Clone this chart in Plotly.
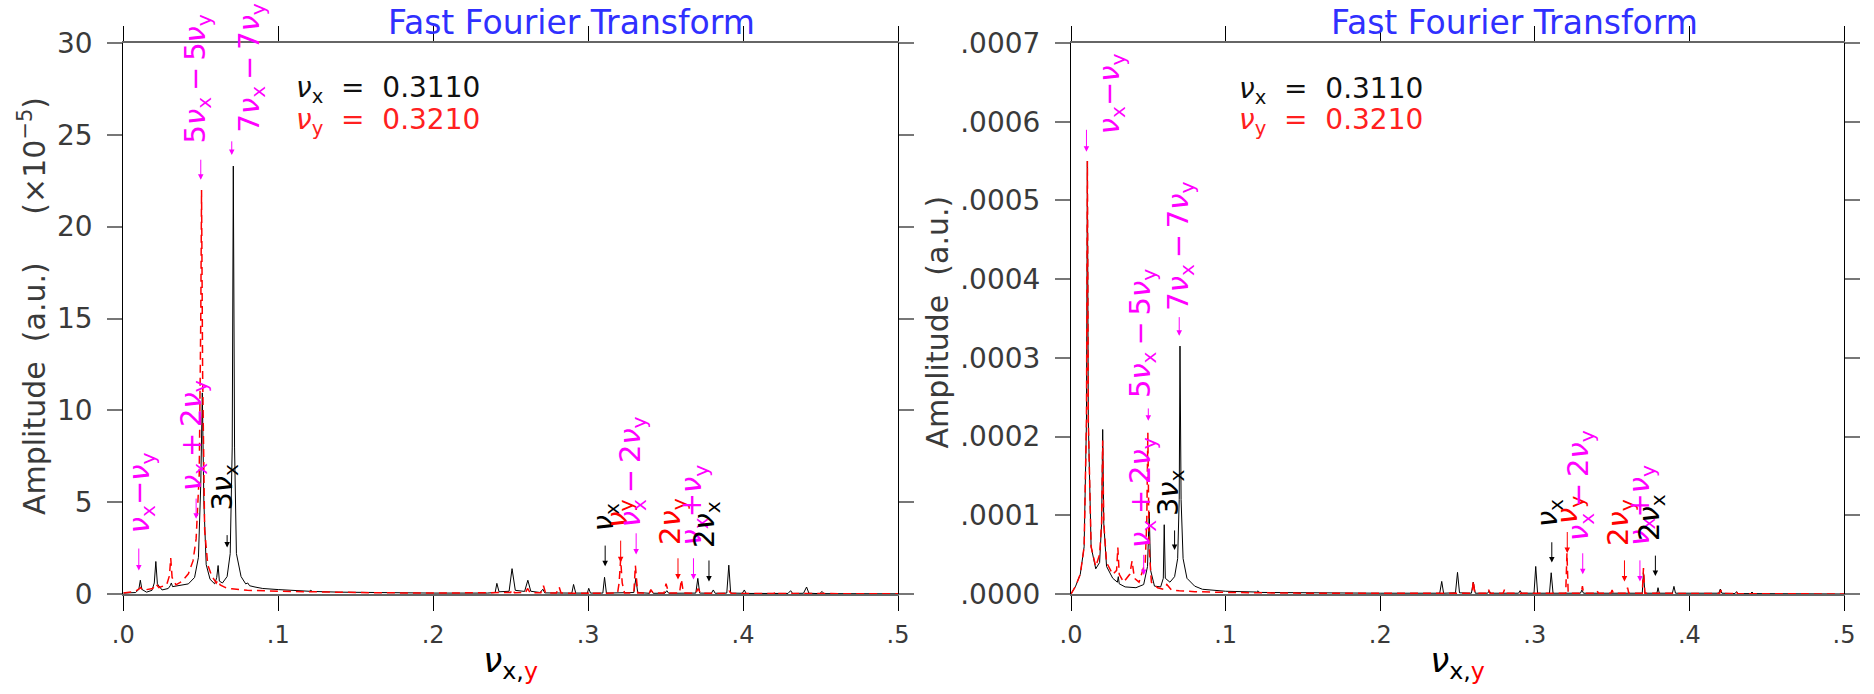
import plotly.graph_objects as go

# ---------------- data ----------------
# Left panel: amplitude in units of 1e-5
LB_NU = [0.000, 0.008, 0.0100, 0.0110, 0.0120, 0.0150, 0.0185, 0.0200, 0.0210, 0.0220, 0.0250,
         0.0290, 0.0303, 0.0310, 0.0318, 0.0360, 0.0420, 0.0460, 0.0485, 0.0500, 0.0510, 0.0520,
         0.0535, 0.0560, 0.0590, 0.0603, 0.0612, 0.0620, 0.0640, 0.0670, 0.0690, 0.0703, 0.0710,
         0.0718, 0.0730, 0.0760, 0.0790, 0.0803, 0.0815, 0.0850, 0.0900, 0.1000, 0.1100, 0.1200,
         0.1210, 0.1220, 0.1400, 0.1600, 0.2000, 0.2350, 0.2400, 0.2411, 0.2425, 0.2490, 0.2509,
         0.2530, 0.2590, 0.2611, 0.2630, 0.2690, 0.2708, 0.2720, 0.2895, 0.2906, 0.2920, 0.2995,
         0.3004, 0.3015, 0.3095, 0.3106, 0.3118, 0.3295, 0.3308, 0.3320, 0.3395, 0.3408, 0.3420,
         0.3495, 0.3508, 0.3520, 0.3695, 0.3708, 0.3720, 0.3795, 0.3808, 0.3820, 0.3895, 0.3908,
         0.3920, 0.3995, 0.4008, 0.4020, 0.4290, 0.4307, 0.4320, 0.4390, 0.4410, 0.4425, 0.4495,
         0.4510, 0.4522, 0.5000]
LB_AMP = [0.05, 0.08, 0.25, 0.75, 0.25, 0.10, 0.20, 0.60, 1.77, 0.55, 0.22,
          0.30, 0.45, 0.60, 0.40, 0.45, 0.55, 0.90, 2.00, 6.00, 10.95, 5.00,
          1.60, 0.80, 0.55, 0.90, 1.55, 0.70, 0.60, 0.95, 2.20, 8.00, 23.30,
          8.00, 2.20, 0.95, 0.55, 0.60, 0.45, 0.38, 0.30, 0.24, 0.18, 0.15,
          0.20, 0.14, 0.10, 0.07, 0.05, 0.05, 0.08, 0.58, 0.12, 0.15, 1.38,
          0.20, 0.14, 0.75, 0.15, 0.08, 0.26, 0.06, 0.05, 0.52, 0.05, 0.05,
          0.31, 0.05, 0.05, 0.91, 0.05, 0.08, 0.85, 0.08, 0.04, 0.20, 0.04,
          0.04, 0.18, 0.04, 0.05, 0.85, 0.05, 0.04, 0.22, 0.04, 0.05, 1.57,
          0.05, 0.04, 0.22, 0.03, 0.03, 0.18, 0.03, 0.04, 0.38, 0.04, 0.02,
          0.14, 0.02, 0.01]

LR_NU = [0.000, 0.008, 0.0105, 0.0112, 0.0125, 0.0190, 0.0210, 0.0230, 0.0280, 0.0298, 0.0306,
         0.0315, 0.0340, 0.0380, 0.0420, 0.0450, 0.0470, 0.0490, 0.0500, 0.0505, 0.0512, 0.0525,
         0.0545, 0.0570, 0.0600, 0.0610, 0.0625, 0.0660, 0.0700, 0.0750, 0.0800, 0.1000, 0.1300,
         0.1600, 0.2000, 0.2400, 0.2500, 0.2510, 0.2525, 0.2595, 0.2610, 0.2625, 0.2695, 0.2712,
         0.2725, 0.2795, 0.2813, 0.2825, 0.3000, 0.3010, 0.3020, 0.3190, 0.3200, 0.3210, 0.3220,
         0.3235, 0.3295, 0.3305, 0.3320, 0.3395, 0.3405, 0.3420, 0.3490, 0.3503, 0.3520, 0.3590,
         0.3602, 0.3615, 0.3695, 0.3710, 0.3725, 0.3900, 0.3910, 0.3925, 0.4200, 0.4210, 0.4225,
         0.5000]
LR_AMP = [0.05, 0.15, 0.30, 0.35, 0.20, 0.30, 0.55, 0.35, 0.50, 1.00, 1.96,
          0.90, 0.50, 0.70, 1.10, 1.80, 3.00, 6.50, 15.0, 22.0, 12.0, 3.50,
          1.60, 1.00, 0.60, 0.75, 0.50, 0.35, 0.28, 0.22, 0.20, 0.15, 0.10,
          0.07, 0.05, 0.05, 0.08, 0.25, 0.07, 0.08, 0.30, 0.07, 0.07, 0.45,
          0.06, 0.06, 0.38, 0.05, 0.04, 0.12, 0.04, 0.05, 0.60, 1.90, 0.60,
          0.05, 0.05, 1.55, 0.05, 0.05, 0.24, 0.05, 0.05, 0.56, 0.05, 0.05,
          0.80, 0.05, 0.04, 0.30, 0.04, 0.03, 0.15, 0.03, 0.03, 0.15, 0.03,
          0.01]

# Right panel: absolute amplitude
RB_NU = [0.000, 0.003, 0.006, 0.0085, 0.0100, 0.0106, 0.0112, 0.0130, 0.0160, 0.0185, 0.0198,
         0.0205, 0.0212, 0.0230, 0.0270, 0.0300, 0.0306, 0.0312, 0.0350, 0.0420, 0.0470, 0.0495,
         0.0506, 0.0515, 0.0540, 0.0580, 0.0597, 0.0603, 0.0610, 0.0640, 0.0670, 0.0690, 0.0700,
         0.0705, 0.0712, 0.0725, 0.0750, 0.0800, 0.0850, 0.1000, 0.1200, 0.1210, 0.1220, 0.1500,
         0.2000, 0.2385, 0.2398, 0.2410, 0.2487, 0.2500, 0.2513, 0.2590, 0.2602, 0.2615, 0.2695,
         0.2705, 0.2715, 0.2895, 0.2905, 0.2915, 0.2995, 0.3006, 0.3018, 0.3095, 0.3106, 0.3118,
         0.3295, 0.3305, 0.3315, 0.3695, 0.3703, 0.3712, 0.3790, 0.3797, 0.3805, 0.3890, 0.3900,
         0.3910, 0.4190, 0.4200, 0.4210, 0.4295, 0.4305, 0.4315, 0.4395, 0.4405, 0.4415, 0.5000]
RB_AMP = [0.0, 1.0e-5, 2.5e-5, 6.0e-5, 2.2e-4, 5.5e-4, 2.2e-4, 6.0e-5, 3.2e-5, 4.0e-5, 9.0e-5,
          2.09e-4, 9.0e-5, 3.5e-5, 2.0e-5, 1.5e-5, 2.2e-5, 1.3e-5, 9.0e-6, 8.0e-6, 1.2e-5, 3.5e-5,
          1.04e-4, 3.0e-5, 1.0e-5, 9.0e-6, 2.0e-5, 8.8e-5, 2.0e-5, 1.5e-5, 2.2e-5, 4.5e-5, 1.2e-4,
          3.15e-4, 1.2e-4, 4.5e-5, 2.0e-5, 1.0e-5, 6.0e-6, 3.5e-6, 2.5e-6, 4.0e-6, 2.0e-6, 1.5e-6,
          1.0e-6, 1.0e-6, 1.6e-5, 1.0e-6, 1.5e-6, 2.75e-5, 1.5e-6, 1.0e-6, 1.5e-5, 1.0e-6, 1.0e-6,
          4.0e-6, 1.0e-6, 1.0e-6, 4.2e-6, 1.0e-6, 1.0e-6, 3.5e-5, 1.0e-6, 1.0e-6, 2.7e-5, 1.0e-6,
          1.0e-6, 5.0e-6, 1.0e-6, 1.0e-6, 2.8e-5, 1.0e-6, 1.0e-6, 8.0e-6, 1.0e-6, 1.0e-6, 9.7e-6,
          1.0e-6, 1.0e-6, 6.3e-6, 1.0e-6, 5.0e-7, 3.0e-6, 5.0e-7, 5.0e-7, 2.5e-6, 5.0e-7, 0.0]

RR_NU = [0.000, 0.003, 0.006, 0.0085, 0.0100, 0.0106, 0.0112, 0.0130, 0.0160, 0.0185, 0.0198,
         0.0205, 0.0212, 0.0230, 0.0270, 0.0295, 0.0303, 0.0312, 0.0340, 0.0380, 0.0395, 0.0410,
         0.0440, 0.0480, 0.0490, 0.0497, 0.0505, 0.0520, 0.0560, 0.0600, 0.0620, 0.0650, 0.0700,
         0.0800, 0.1000, 0.1500, 0.2000, 0.2595, 0.2602, 0.2612, 0.2690, 0.2700, 0.2710, 0.2795,
         0.2805, 0.2815, 0.3200, 0.3208, 0.3216, 0.3300, 0.3308, 0.3316, 0.3395, 0.3403, 0.3411,
         0.3492, 0.3500, 0.3508, 0.3592, 0.3600, 0.3608, 0.3695, 0.3703, 0.3712, 0.4195, 0.4203,
         0.4211, 0.4295, 0.4303, 0.4311, 0.5000]
RR_AMP = [0.0, 1.0e-5, 2.5e-5, 6.0e-5, 2.2e-4, 5.5e-4, 2.2e-4, 6.0e-5, 3.5e-5, 5.0e-5, 9.0e-5,
          1.95e-4, 9.0e-5, 4.0e-5, 2.5e-5, 3.0e-5, 5.9e-5, 2.5e-5, 1.5e-5, 2.5e-5, 4.2e-5, 2.0e-5,
          1.5e-5, 4.0e-5, 9.0e-5, 2.05e-4, 6.0e-5, 1.5e-5, 8.0e-6, 6.0e-6, 1.2e-5, 5.0e-6, 4.0e-6,
          3.0e-6, 2.0e-6, 1.0e-6, 1.0e-6, 1.0e-6, 1.7e-5, 1.0e-6, 1.0e-6, 6.0e-6, 1.0e-6, 1.0e-6,
          6.0e-6, 1.0e-6, 1.0e-6, 5.2e-5, 1.0e-6, 1.0e-6, 1.0e-5, 1.0e-6, 1.0e-6, 4.0e-6, 1.0e-6,
          1.0e-6, 5.0e-6, 1.0e-6, 1.0e-6, 8.0e-6, 1.0e-6, 1.0e-6, 3.3e-5, 1.0e-6, 5.0e-7, 5.0e-6,
          5.0e-7, 5.0e-7, 3.0e-6, 5.0e-7, 0.0]

X_TICKS = [0.0, 0.1, 0.2, 0.3, 0.4, 0.5]
X_TICKTEXT = [".0", ".1", ".2", ".3", ".4", ".5"]
LY_TICKS = [0, 5, 10, 15, 20, 25, 30]
LY_TICKTEXT = ["0", "5", "10", "15", "20", "25", "30"]
RY_TICKS = [0.0, 0.0001, 0.0002, 0.0003, 0.0004, 0.0005, 0.0006, 0.0007]
RY_TICKTEXT = [".0000", ".0001", ".0002", ".0003", ".0004", ".0005", ".0006", ".0007"]

TUNE_X = "0.3110"
TUNE_Y = "0.3210"
TITLE = "Fast Fourier Transform"

# ---------------- styling / layout ----------------
FONT = "DejaVu Sans, Liberation Sans, sans-serif"
MAG = "#ff00ff"
BLK = "#000000"
RED = "#ff0000"
BLUE = "#3030ff"
TICKC = "#3a3a3a"
W, H = 1874, 694
ML, MR, MT, MB = 123, 30, 43, 100
PW = W - ML - MR
PH = H - MT - MB


def dom(a, b):
    return [max(0.0, (a - ML) / PW), min(1.0, (b - ML) / PW)]


NU = "<i>ν</i>"
TS = "\u2009"


def s(t):
    return "<sub>" + t + "</sub>"


T_VXmVY = NU + s("x") + "−" + NU + s("y")
T_5 = "5" + NU + s("x") + TS + "−" + TS + "5" + NU + s("y")
T_7 = "7" + NU + s("x") + TS + "−" + TS + "7" + NU + s("y")
T_VXp2VY = NU + s("x") + TS + "+" + TS + "2" + NU + s("y")
T_3VX = "3" + NU + s("x")
T_VX = NU + s("x")
T_VY = NU + s("y")
T_VXm2VY = NU + s("x") + TS + "−" + TS + "2" + NU + s("y")
T_2VY = "2" + NU + s("y")
T_VXpVY = NU + s("x") + "+" + NU + s("y")
T_2VX = "2" + NU + s("x")

# panel, text, color, arrow nu, arrow tip, arrow tail, text nu (centre), text bottom
LABELS = [
    ("L", T_VXmVY, MAG, 0.010, 1.28, 2.53, 0.0115, 3.18),
    ("L", T_5, MAG, 0.050, 22.55, 23.7, 0.0476, 24.4),
    ("L", T_7, MAG, 0.070, 23.9, 24.7, 0.0824, 25.05),
    ("L", T_VXp2VY, MAG, 0.047, 4.1, 5.25, 0.045, 5.47),
    ("L", T_3VX, BLK, 0.067, 2.53, 3.26, 0.0653, 4.43),
    ("L", T_VX, BLK, 0.311, 1.51, 2.69, 0.311, 3.32),
    ("L", T_VY, RED, 0.321, 1.73, 2.96, 0.3194, 3.51),
    ("L", T_VXm2VY, MAG, 0.331, 2.15, 3.36, 0.3284, 3.51),
    ("L", T_2VY, RED, 0.358, 0.79, 2.0, 0.354, 2.58),
    ("L", T_VXpVY, MAG, 0.368, 0.79, 2.0, 0.368, 2.53),
    ("L", T_2VX, BLK, 0.378, 0.68, 1.88, 0.376, 2.42),
    ("R", T_VXmVY, MAG, 0.010, 5.62e-4, 5.91e-4, 0.0259, 5.81e-4),
    ("R", T_5, MAG, 0.050, 2.20e-4, 2.37e-4, 0.0459, 2.47e-4),
    ("R", T_7, MAG, 0.070, 3.28e-4, 3.53e-4, 0.0705, 3.58e-4),
    ("R", T_VXp2VY, MAG, 0.047, 2.4e-5, 5.1e-5, 0.0459, 5.65e-5),
    ("R", T_3VX, BLK, 0.067, 5.6e-5, 8.2e-5, 0.064, 9.7e-5),
    ("R", T_VX, BLK, 0.311, 4.0e-5, 6.7e-5, 0.3096, 8.2e-5),
    ("R", T_VY, RED, 0.321, 5.2e-5, 8.0e-5, 0.3226, 8.6e-5),
    ("R", T_VXm2VY, MAG, 0.331, 2.5e-5, 5.3e-5, 0.3297, 6.5e-5),
    ("R", T_2VY, RED, 0.358, 1.6e-5, 4.4e-5, 0.355, 5.9e-5),
    ("R", T_VXpVY, MAG, 0.368, 1.6e-5, 4.4e-5, 0.3685, 5.9e-5),
    ("R", T_2VX, BLK, 0.378, 2.3e-5, 5.0e-5, 0.3756, 6.5e-5),
]

fig = go.Figure()
common_line = dict(mode="lines", showlegend=False, hoverinfo="skip")
fig.add_trace(go.Scatter(x=LB_NU, y=LB_AMP, line=dict(color="black", width=1), xaxis="x", yaxis="y", **common_line))
fig.add_trace(go.Scatter(x=LR_NU, y=LR_AMP, line=dict(color=RED, width=1.5, dash="8px,5px"), xaxis="x", yaxis="y", **common_line))
fig.add_trace(go.Scatter(x=RB_NU, y=RB_AMP, line=dict(color="black", width=1), xaxis="x2", yaxis="y2", **common_line))
fig.add_trace(go.Scatter(x=RR_NU, y=RR_AMP, line=dict(color=RED, width=1.5, dash="8px,5px"), xaxis="x2", yaxis="y2", **common_line))

XTITLE = NU + "<sub>x,<span style='color:#ff0000'>y</span></sub>"

xcommon = dict(range=[0, 0.5], tickvals=X_TICKS, ticktext=X_TICKTEXT, showline=True,
               linecolor="#666666", linewidth=2, mirror="ticks", ticks="outside", ticklen=15,
               tickwidth=1, tickcolor="black", showgrid=False, zeroline=False,
               tickfont=dict(family=FONT, size=24, color=TICKC), ticklabelstandoff=3,
               automargin=False,
               title=dict(text=XTITLE, font=dict(family=FONT, size=34, color="black"), standoff=0))
ycommon = dict(showline=True, linecolor="black", linewidth=1, mirror="ticks", ticks="outside",
               ticklen=15, tickwidth=2, tickcolor="#777777", showgrid=False, zeroline=False,
               tickfont=dict(family=FONT, size=28, color=TICKC), ticklabelstandoff=9,
               automargin=False)

fig.update_layout(
    width=W, height=H,
    margin=dict(l=ML, r=MR, t=MT, b=MB),
    paper_bgcolor="white", plot_bgcolor="white",
    showlegend=False,
    xaxis=dict(domain=dom(123.3, 898), anchor="y", **xcommon),
    xaxis2=dict(domain=dom(1071, 1844.3), anchor="y2", **xcommon),
    yaxis=dict(domain=[0, 1], anchor="x", range=[0, 30], tickvals=LY_TICKS, ticktext=LY_TICKTEXT, **ycommon),
    yaxis2=dict(domain=[0, 1], anchor="x2", range=[0, 0.0007], tickvals=RY_TICKS, ticktext=RY_TICKTEXT, **ycommon),
)

ann = []
for panel, text, color, nu, tip, tail, tnu, tamp in LABELS:
    xr, yr = ("x", "y") if panel == "L" else ("x2", "y2")
    ann.append(dict(x=nu, y=tip, ax=nu, ay=tail, xref=xr, yref=yr, axref=xr, ayref=yr,
                    text="\u00a0", font=dict(size=1, color=color), borderpad=0,
                    showarrow=True, arrowhead=2, arrowsize=1.1, arrowwidth=1,
                    arrowcolor=color, standoff=0, startstandoff=0))
    ann.append(dict(x=tnu, y=tamp, xref=xr, yref=yr, text=text, showarrow=False,
                    textangle=-90, xanchor="center", yanchor="bottom",
                    font=dict(family=FONT, size=29, color=color)))

# tune read-outs, titles, y-axis titles
for xr, yr, yb, yrd, xpos, tnu in [("x", "y", 27.45, 25.7, 0.110, 0.289),
                                   ("x2", "y2", 6.40e-4, 6.0e-4, 0.1073, 0.287)]:
    ann.append(dict(x=xpos, y=yb, xref=xr, yref=yr, xanchor="left", yanchor="middle", showarrow=False,
                    text=NU + s("x") + "\u00a0\u00a0=\u00a0\u00a0" + TUNE_X,
                    font=dict(family=FONT, size=28, color="#111111")))
    ann.append(dict(x=xpos, y=yrd, xref=xr, yref=yr, xanchor="left", yanchor="middle", showarrow=False,
                    text=NU + s("y") + "\u00a0\u00a0=\u00a0\u00a0" + TUNE_Y,
                    font=dict(family=FONT, size=28, color="#ff2020")))
    ann.append(dict(x=tnu, y=(594.5 - 23) / PH, xref=xr, yref="paper", xanchor="center",
                    yanchor="middle", showarrow=False, text=TITLE,
                    font=dict(family=FONT, size=33, color=BLUE)))

ann.append(dict(x=(54 - ML) / PW, y=(594.5 - 307) / PH, xref="paper", yref="paper",
                xanchor="right", yanchor="middle", textangle=-90, showarrow=False,
                text="Amplitude\u00a0\u00a0(a.u.)\u00a0\u00a0\u00a0\u00a0\u00a0(×10<sup>−5</sup>)",
                font=dict(family=FONT, size=30, color=TICKC)))
ann.append(dict(x=(956 - ML) / PW, y=(594.5 - 322.5) / PH, xref="paper", yref="paper",
                xanchor="right", yanchor="middle", textangle=-90, showarrow=False,
                text="Amplitude\u00a0\u00a0(a.u.)",
                font=dict(family=FONT, size=30, color=TICKC)))

fig.update_layout(annotations=ann)
fig.write_html("out.html")
